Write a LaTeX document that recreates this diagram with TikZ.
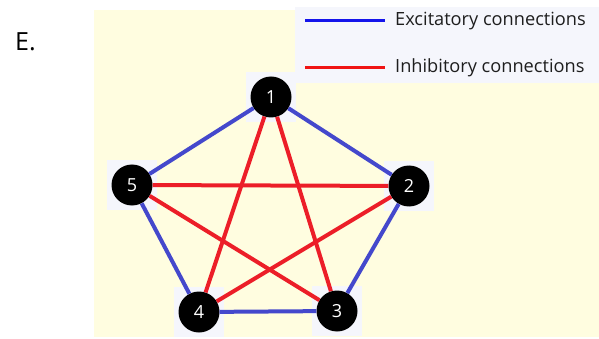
\documentclass[tikz,border=0pt]{standalone}
\usepackage{fontspec}
\setmainfont{Open Sans}
\usetikzlibrary{positioning}
\definecolor{bgyellow}{RGB}{255,253,224}
\definecolor{boxgray}{RGB}{245,246,252}
\definecolor{excblue}{RGB}{68,72,204}
\definecolor{inhred}{RGB}{236,30,40}
\definecolor{legblue}{RGB}{20,20,235}
\definecolor{legred}{RGB}{240,20,20}
\definecolor{textdark}{RGB}{30,30,30}

\tikzset{
  neuron/.style={circle, fill=black, text=white, minimum size=41pt, inner sep=0pt,
    font=\fontsize{18}{18}\selectfont},
  halo/.style={fill=boxgray, minimum size=50pt, inner sep=0pt},
  exc/.style={excblue, line width=4pt},
  inh/.style={inhred, line width=4pt},
  legline/.style={line width=3pt},
  legtext/.style={anchor=west, text=textdark, inner sep=0pt,
    font=\fontsize{18.2}{18}\selectfont},
}

\begin{document}
\begin{tikzpicture}[x=1pt,y=-1pt]
  \useasboundingbox (0,0) rectangle (599,339);
  \fill[white] (0,0) rectangle (599,339);

  % background panels
  \fill[bgyellow] (94,10) rectangle (599,337);
  \fill[boxgray] (295,7) rectangle (599,83);

  % panel letter
  \node[anchor=west, inner sep=0pt, font=\fontsize{25}{25}\selectfont] (panel) at (15,42) {E.};

  % legend
  \coordinate (excL) at (305,21);
  \coordinate (excR) at (385,21);
  \coordinate (inhL) at (305,68);
  \coordinate (inhR) at (385,68);
  \draw[legline, legblue] (excL) -- (excR);
  \draw[legline, legred] (inhL) -- (inhR);
  \node[legtext] (exclabel) at (395,21) {Excitatory connections};
  \node[legtext] (inhlabel) at (395,68) {Inhibitory connections};

  % neurons
  \foreach \n/\x/\y in {1/271/97, 2/409/186, 3/337/311, 4/199/312, 5/132/185} {
    \node[halo] (h\n) at (\x,\y) {};
    \node[neuron] (n\n) at (\x,\y) {\n};
  }

  % excitatory ring
  \foreach \a/\b in {1/2, 2/3, 3/4, 4/5, 5/1}
    \draw[exc] (n\a) -- (n\b);
  % inhibitory star
  \foreach \a/\b in {1/3, 1/4, 2/4, 2/5, 3/5}
    \draw[inh] (n\a) -- (n\b);
\end{tikzpicture}
\end{document}
